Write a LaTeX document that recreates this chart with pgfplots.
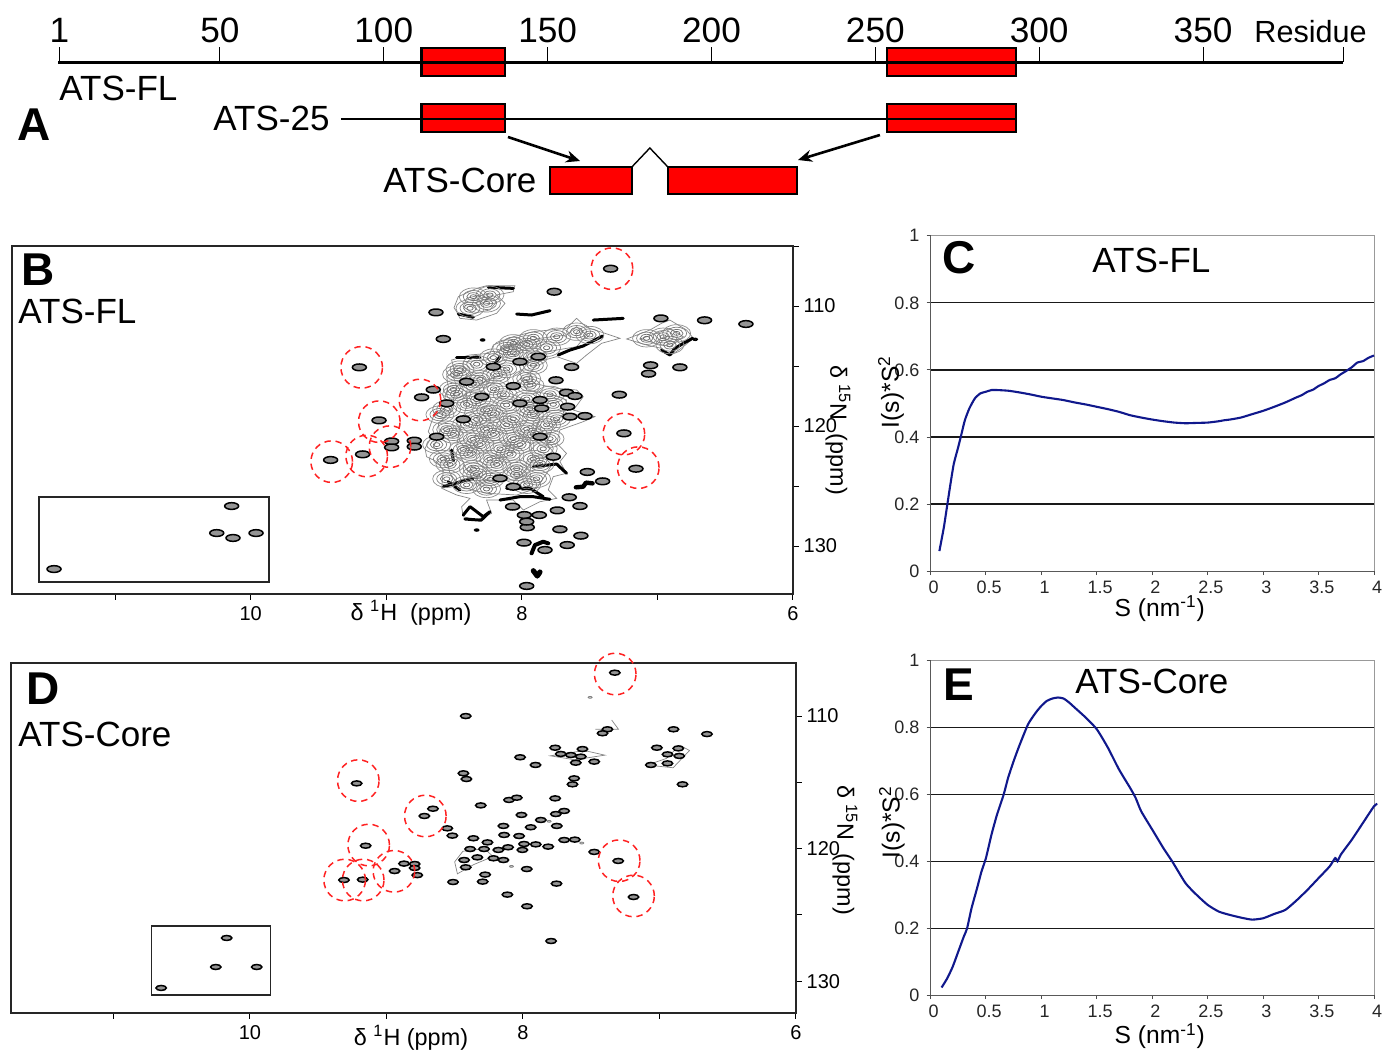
\documentclass[border=0pt]{standalone}
\usepackage{pgfplots}
\pgfplotsset{compat=1.18}
\usepackage{pgfplotstable}
\usepackage{fontspec}
\setmainfont{Liberation Sans}
\usetikzlibrary{arrows.meta}
\definecolor{curve}{HTML}{10188C}
\definecolor{cring}{HTML}{FF2222}
\newcommand\fs[1]{\fontsize{#1}{#1}\selectfont}
\pgfdeclareplotmark{ell}{\pgfpathellipse{\pgfqpoint{0pt}{0pt}}{\pgfqpoint{\pgfplotmarksize}{0pt}}{\pgfqpoint{0pt}{0.48\pgfplotmarksize}}\pgfusepathqfillstroke}
\pgfdeclareplotmark{ellr}{\pgfpathellipse{\pgfqpoint{0pt}{0pt}}{\pgfqpoint{\pgfplotmarksize}{0pt}}{\pgfqpoint{0pt}{0.62\pgfplotmarksize}}\pgfusepathqstroke}
\pgfplotstableread{
x y
7.345 106.89
9.198 115.11
8.739 117.61
8.653 116.97
9.053 119.53
9.174 122.36
9.410 122.83
8.960 121.28
8.960 121.78
8.793 121.22
8.793 121.72
7.247 120.61
7.158 123.56
7.761 108.81
8.633 110.53
6.974 111.03
6.652 111.19
6.347 111.50
8.579 112.75
7.050 114.94
6.834 115.11
7.065 115.64
7.633 115.08
7.281 117.39
7.748 116.19
7.670 117.22
7.608 117.50
7.662 118.39
7.534 119.17
7.645 119.22
7.517 123.83
7.404 124.61
7.650 125.94
7.571 126.67
7.738 127.03
7.871 127.42
7.981 127.42
8.068 126.72
7.960 128.44
7.964 127.97
7.719 128.61
7.564 129.14
7.984 129.72
7.829 130.33
7.665 129.92
7.964 133.33
8.014 114.64
7.878 114.22
8.407 116.31
8.063 116.67
7.854 118.53
8.432 119.44
8.628 120.89
7.866 120.89
8.161 124.36
8.063 125.06
7.768 122.56
8.210 115.06
8.554 118.11
8.296 117.56
8.014 118.11
7.866 117.83
10.14 126.67
10.25 128.92
9.96 128.92
10.13 129.33
11.45 131.92
}\peaksB
\pgfplotstableread{
x y
8.112 113.55
7.964 113.20
7.817 113.48
8.210 114.30
8.063 113.90
7.915 114.25
8.456 115.30
8.333 114.85
8.112 115.25
7.915 114.95
8.481 115.70
8.309 116.10
8.186 115.75
7.964 116.05
8.505 116.95
8.358 116.50
8.210 116.90
7.940 116.60
8.481 117.35
8.333 117.80
8.137 117.40
7.964 117.75
7.792 117.40
8.554 118.60
8.407 118.20
8.260 118.65
8.112 118.25
7.940 118.55
7.768 118.20
8.604 119.05
8.333 119.45
8.210 119.00
8.063 119.40
7.915 119.05
7.743 119.40
8.554 120.30
8.407 119.85
8.260 120.25
8.112 119.90
7.964 120.25
7.817 119.90
8.505 120.70
8.358 121.10
8.210 120.70
8.063 121.05
7.915 120.70
7.792 121.05
8.628 121.55
8.432 121.95
8.309 121.55
8.161 121.90
8.014 121.55
7.842 121.90
8.579 122.75
8.382 122.35
8.235 122.75
8.087 122.35
7.915 122.75
8.530 123.20
8.358 123.60
8.186 123.20
8.038 123.55
7.866 123.20
8.554 124.40
8.333 124.05
8.235 124.45
8.038 124.05
7.891 124.40
8.407 124.90
8.260 125.25
7.964 124.90
8.063 113.11
7.915 112.69
7.743 112.56
7.596 112.14
7.498 112.42
8.358 109.22
8.260 109.78
8.382 110.19
8.235 109.08
7.080 112.69
6.957 112.56
6.858 112.28
6.908 113.25
}\massB
\pgfplotstableread{
x y
7.327 106.73
8.419 110.00
7.381 111.00
7.417 111.30
6.897 111.00
6.652 111.36
7.764 112.39
7.019 112.39
6.862 112.44
7.564 112.49
7.723 112.86
7.649 112.94
7.576 113.06
6.941 112.89
6.855 113.01
8.021 113.11
7.613 113.52
7.478 113.44
7.908 113.69
7.063 113.69
6.941 113.57
8.436 114.32
8.414 114.75
7.625 114.70
7.637 115.15
6.831 115.15
9.218 115.08
7.764 116.21
8.102 116.33
8.045 116.16
8.309 116.74
8.659 116.99
8.722 117.54
7.698 117.16
7.759 117.39
8.011 117.46
7.869 117.84
7.752 118.29
7.943 118.39
8.143 118.29
8.554 118.47
8.517 119.02
8.138 118.97
8.028 119.05
8.363 119.22
8.260 119.53
7.906 119.68
7.992 119.65
7.815 119.85
7.698 119.35
7.620 119.32
8.285 120.03
8.387 120.03
8.180 120.10
8.109 119.90
8.004 120.10
8.334 120.66
8.431 120.86
8.216 120.73
8.143 120.86
7.478 120.25
7.302 120.93
9.152 119.78
7.972 121.54
8.419 121.41
8.940 121.69
8.871 121.13
8.793 121.16
8.793 121.46
8.774 122.00
8.277 121.96
9.311 122.37
9.174 122.34
8.512 122.52
8.295 122.49
7.754 122.64
7.190 123.65
8.114 123.47
7.970 124.35
7.794 126.97
10.17 126.74
10.25 128.93
9.95 128.93
10.65 130.51
}\peaksD
\pgfplotsset{nmr/.style={
  scale only axis, clip=false, x dir=reverse, y dir=reverse,
  xtick pos=lower, ytick pos=right, yticklabel pos=right,
  tick align=outside, major tick length=2.8pt, tick style={black,line width=.5pt},
  axis line style={line width=1pt,black!85},
  xtick={6,7,8,9,10,11}, xticklabels={6,,8,,10,},
  tick label style={font=\fs{10}},
  yticklabel style={xshift=-1pt},
  },
  saxs/.style={
  scale only axis, clip=false, xmin=0,xmax=4,ymin=0,ymax=1,
  axis x line=bottom, axis y line=left,
  x axis line style={-,black!65,line width=.7pt}, y axis line style={-,black!65,line width=.7pt},
  tick align=outside, major tick length=2pt, tick style={black!70,line width=.5pt},
  xtick={0,0.5,1,1.5,2,2.5,3,3.5,4}, xticklabels={0,0.5,1,1.5,2,2.5,3,3.5,4},
  ytick={0,0.2,0.4,0.6,0.8,1}, yticklabels={0,0.2,0.4,0.6,0.8,1},
  tick label style={font=\fs{9},black!85},
  xticklabel style={xshift=1.6pt,yshift=.6pt},
  ymajorgrids, grid style={black!90,line width=.65pt},
  label style={font=\fs{12.3},inner sep=0pt},
  },
  peak/.style={only marks, mark=ell, mark options={draw=black,fill=black!42,line width=.75pt}},
  gc/.style={black!48,line width=.35pt,no marks},
  dk/.style={black,line width=1.5pt,no marks,line join=round,line cap=round},
  ring/.style={only marks, mark=o, mark size=10.4pt, mark options={draw=cring,line width=.75pt,dash pattern=on 3.2pt off 2.4pt}},
}
\begin{document}
\begin{tikzpicture}
\path[use as bounding box] (0pt,0pt) rectangle (691pt,-525pt);

% ---- Panel A
\begin{axis}[at={(29pt,-31pt)},anchor=north west,scale only axis,width=642.5pt,height=66pt,clip=false,
  xmin=0.6,xmax=392.7,ymin=0,ymax=132,
  axis x line=top, axis y line=none, axis on top,
  x axis line style={-,line width=1.5pt,black},
  xtick align=outside, xticklabel pos=upper, major tick length=7.5pt, tick style={black,line width=.5pt},
  xtick={1,50,100,150,200,250,300,350,392.7}, xticklabels={1,50,100,150,200,250,300,350,{}},
  xticklabel style={font=\fs{17.6},inner sep=0pt,yshift=2pt}]
\addplot[fill=red,draw=black,line width=1.3pt] coordinates {(111.6,118)(137,118)(137,146)(111.6,146)} -- cycle;
\addplot[fill=red,draw=black,line width=1.3pt] coordinates {(253.6,118)(292.9,118)(292.9,146)(253.6,146)} -- cycle;
\addplot[fill=red,draw=black,line width=1.3pt] coordinates {(111.6,62)(137,62)(137,90)(111.6,90)} -- cycle;
\addplot[fill=red,draw=black,line width=1.3pt] coordinates {(253.6,62)(292.9,62)(292.9,90)(253.6,90)} -- cycle;
\addplot[black,line width=1pt] coordinates {(86.9,75)(292.9,75)};
\addplot[fill=red,draw=black,line width=1.3pt] coordinates {(150.7,0)(175.7,0)(175.7,27)(150.7,27)} -- cycle;
\addplot[fill=red,draw=black,line width=1.3pt] coordinates {(186.7,0)(226.1,0)(226.1,27)(186.7,27)} -- cycle;
\addplot[black,line width=.7pt] coordinates {(175.7,27)(181.2,46)(186.7,27)};
\addplot[-{Stealth[length=7pt,width=6pt]},black,line width=1.3pt] coordinates {(137.9,57)(159.9,33)};
\addplot[-{Stealth[length=7pt,width=6pt]},black,line width=1.3pt] coordinates {(251.4,59)(226.4,34)};
\end{axis}

% ---- Panel B
\begin{axis}[nmr,at={(6pt,-123pt)},anchor=north west,width=390.5pt,height=174pt,
  xmin=6,xmax=11.76,ymin=105,ymax=134,
  ytick={105,110,115,120,125,130}, yticklabels={,110,,120,,130}]
% main contour mass
\addplot[gc] coordinates {(8.714,121.86)(8.665,120.89)(8.690,120.47)(8.653,119.22)(8.554,118.39)(8.567,117.56)(8.542,116.72)(8.554,115.89)(8.493,115.47)(8.518,114.5)(8.382,114.08)(8.235,113.94)(8.210,113.25)(8.063,112.56)(7.915,112.14)(7.670,111.86)(7.596,111.03)(7.522,111.78)(7.424,112.14)(7.276,112.69)(7.412,113.11)(7.522,114.08)(7.596,114.78)(7.670,114.5)(7.743,114.22)(7.878,114.64)(7.940,115.61)(7.915,116.44)(7.743,116.86)(7.596,117.0)(7.547,117.56)(7.620,118.67)(7.461,119.22)(7.547,119.64)(7.719,120.33)(7.743,121.44)(7.670,122.28)(7.719,122.97)(7.670,123.94)(7.768,124.22)(7.805,125.33)(7.743,126.03)(7.866,126.31)(7.989,127.0)(8.063,126.17)(8.260,126.17)(8.223,127.28)(8.333,127.83)(8.432,127.56)(8.444,126.72)(8.382,126.03)(8.481,125.75)(8.591,125.19)(8.579,123.67)(8.628,122.97)(8.702,122.56)} -- cycle;
\addplot[gc] coordinates {(8.653,121.72)(8.604,120.75)(8.616,119.78)(8.530,118.94)(8.505,117.83)(8.481,116.72)(8.505,115.89)(8.432,115.47)(8.432,114.64)(8.260,114.5)(8.161,113.67)(8.038,113.11)(7.866,112.69)(7.670,112.42)(7.596,111.72)(7.522,112.42)(7.596,113.39)(7.743,113.67)(7.915,114.08)(8.014,115.61)(7.964,117.0)(7.768,117.42)(7.670,117.83)(7.694,118.94)(7.768,120.06)(7.817,121.44)(7.743,122.56)(7.817,123.94)(7.891,125.19)(8.038,125.75)(8.260,125.61)(8.456,125.06)(8.530,123.94)(8.554,122.83)} -- cycle;
\addplot[gc] coordinates {(8.481,121.72)(8.456,120.06)(8.407,118.39)(8.407,117.28)(8.260,116.17)(8.112,115.61)(8.087,117.28)(7.915,118.11)(7.866,119.5)(7.940,121.17)(7.915,122.83)(8.038,124.5)(8.260,124.5)(8.407,123.67)} -- cycle;
\addplot[gc] coordinates {(8.500,110.14)(8.468,109.22)(8.333,108.53)(8.260,108.31)(8.051,108.31)(8.063,108.81)(8.186,109.08)(8.124,109.78)(8.186,110.61)(8.333,111.17)(8.456,111.03)(8.481,110.47)} -- cycle;
\addplot[gc] coordinates {(8.432,110.06)(8.407,109.36)(8.309,109.08)(8.186,109.64)(8.235,110.33)(8.358,110.61)} -- cycle;
\addplot[gc] coordinates {(7.227,112.75)(7.055,112.0)(6.969,111.44)(6.908,111.17)(6.785,112.0)(6.735,112.69)(6.809,113.39)(6.908,114.17)(6.969,113.53)(7.080,113.25)} -- cycle;
\addplot[gc] coordinates {(7.129,112.75)(7.006,112.28)(6.908,111.86)(6.809,112.56)(6.908,113.39)(7.030,113.06)} -- cycle;
% overlapping contour rings inside the mass
\addplot[only marks,mark=ellr,mark size=7pt,mark options={draw=black!45,line width=.35pt}] table {\massB};
\addplot[only marks,mark=ellr,mark size=5pt,mark options={draw=black!50,line width=.35pt}] table {\massB};
\addplot[only marks,mark=ellr,mark size=3.2pt,mark options={draw=black!55,line width=.35pt}] table {\massB};
\addplot[only marks,mark=ellr,mark size=1.6pt,mark options={draw=black!60,line width=.35pt}] table {\massB};
% dark ridges
\addplot[dk] coordinates {(7.731,114.08)(7.645,113.67)(7.547,113.33)(7.461,112.83)(7.404,112.5)};
\addplot[dk] coordinates {(6.969,113.67)(6.908,114.08)(6.871,113.53)(6.809,113.11)(6.740,112.69)};
\addplot[dk] coordinates {(8.247,108.44)(8.063,108.53)};
\addplot[dk] coordinates {(8.038,110.67)(7.928,110.75)(7.792,110.39)};
\addplot[dk] coordinates {(8.468,110.67)(8.358,110.94)};
\addplot[dk] coordinates {(7.473,111.17)(7.252,111.03)};
\addplot[dk] coordinates {(8.542,124.67)(8.456,125.33)};
\addplot[dk] coordinates {(8.432,127.42)(8.382,126.72)(8.284,127.56)(8.235,127.14)(8.300,127.85)(8.420,127.75)};
\addplot[dk] coordinates {(8.161,126.17)(8.014,125.89)(7.915,125.89)(7.792,126.11)};
\addplot[dk] coordinates {(8.112,125.19)(7.940,125.19)(7.842,125.89)};
\addplot[dk] coordinates {(7.915,123.39)(7.743,123.17)(7.670,123.94)};
\addplot[dk] coordinates {(8.579,125.06)(8.407,124.5)(8.358,124.36)};
\addplot[dk] coordinates {(8.518,122.0)(8.505,122.89)};
\addplot[dk] coordinates {(8.481,114.28)(8.309,114.28)};
\addplot[dk] coordinates {(8.161,114.22)(8.223,115.19)};
\addplot[dk,line width=2.2pt] coordinates {(7.601,125.11)(7.547,125.06)(7.527,124.72)(7.478,124.78)};
\addplot[dk,line width=2pt] coordinates {(7.928,130.61)(7.903,129.92)(7.842,129.64)(7.805,129.78)};
\addplot[dk,line width=2.6pt] coordinates {(7.915,132.06)(7.886,132.5)(7.866,132.17)};
% resolved peaks
\addplot[peak,mark size=3.5pt] table {\peaksB};
\addplot[peak,mark size=1pt] coordinates {(8.289,112.83)(6.721,112.78)(8.333,128.67)};
% inset frame
\addplot[black!85,line width=.7pt] coordinates {(11.56,125.92)(9.864,125.92)(9.864,133)(11.56,133)} -- cycle;
% red markers
\addplot[ring] coordinates {(7.335,106.89)(9.181,115.11)(8.751,117.83)(9.051,119.64)(9.144,122.5)(9.402,122.97)(8.972,121.72)(7.247,120.67)(7.141,123.47)};
\end{axis}

% ---- Panel D
\begin{axis}[nmr,at={(5.5pt,-331.5pt)},anchor=north west,width=392.5pt,height=175pt,
  xmin=6,xmax=11.75,ymin=106,ymax=132.4,
  ytick={110,115,120,125,130}, yticklabels={110,,120,,130}]
\addplot[gc] coordinates {(7.55,112.6)(7.40,112.95)(7.62,113.3)(7.80,113.0)} -- cycle;
\addplot[gc] coordinates {(7.47,111.0)(7.30,111.0)(7.35,110.3)};
\addplot[gc] coordinates {(8.44,120.2)(8.28,120.0)(8.22,120.6)(8.36,121.2)(8.48,121.9)(8.50,121.0)} -- cycle;
\addplot[gc] coordinates {(7.09,113.7)(6.95,113.2)(6.85,112.2)(6.78,112.6)(6.90,113.9)} -- cycle;
\addplot[peak,mark size=2.6pt] table {\peaksD};
\addplot[peak,mark size=1pt,mark options={draw=black!50,fill=black!20,line width=.4pt}] coordinates {(7.508,108.59)(8.084,121.34)(7.569,119.58)(7.808,117.94)};
\addplot[black!85,line width=.7pt] coordinates {(10.72,125.84)(9.849,125.84)(9.849,131.04)(10.72,131.04)} -- cycle;
\addplot[ring] coordinates {(9.206,114.87)(8.715,117.54)(9.130,119.73)(9.306,122.37)(9.170,122.37)(8.945,121.71)(7.295,120.91)(7.190,123.57)(7.324,106.83)};
\end{axis}

% ---- Panel C
\begin{axis}[saxs,at={(465.25pt,-117.85pt)},anchor=north west,width=221.75pt,height=167.75pt,
  xlabel={S (nm\textsuperscript{-1})},ylabel={I(s)*S\textsuperscript{2}},
  xlabel style={at={(axis description cs:0.517,-0.112)},anchor=center},
  ylabel style={at={(axis description cs:-0.089,0.534)},anchor=center}]
\addplot[black!40,line width=.5pt] coordinates {(0,1)(4,1)(4,0)};
\addplot[curve,line width=1.05pt,smooth,tension=.35] coordinates {(0.08,.06)(0.12,.13)(0.15,.195)(0.18,.26)(0.21,.32)(0.25,.37)(0.28,.41)(0.31,.45)(0.35,.485)(0.4,.515)(0.45,.53)(0.5,.535)(0.55,.54)(0.6,.54)(0.7,.538)(0.8,.533)(0.9,.527)(1,.52)(1.1,.515)(1.2,.51)(1.3,.503)(1.4,.497)(1.5,.49)(1.6,.483)(1.7,.475)(1.8,.465)(1.9,.458)(2,.452)(2.1,.447)(2.2,.443)(2.3,.441)(2.4,.442)(2.5,.443)(2.6,.447)(2.65,.45)(2.7,.452)(2.8,.458)(2.9,.468)(3,.478)(3.1,.49)(3.2,.503)(3.3,.518)(3.35,.525)(3.4,.535)(3.45,.541)(3.5,.552)(3.55,.56)(3.6,.57)(3.65,.575)(3.7,.587)(3.75,.597)(3.8,.608)(3.85,.622)(3.9,.626)(3.95,.636)(4,.643)};
\end{axis}

% ---- Panel E
\begin{axis}[saxs,at={(465.25pt,-330.35pt)},anchor=north west,width=221.75pt,height=167.25pt,
  xlabel={S (nm\textsuperscript{-1})},ylabel={I(s)*S\textsuperscript{2}},
  xlabel style={at={(axis description cs:0.517,-0.122)},anchor=center},
  ylabel style={at={(axis description cs:-0.087,0.517)},anchor=center}]
\addplot[black!40,line width=.5pt] coordinates {(0,1)(4,1)(4,0)};
\addplot[curve,line width=1.05pt,smooth,tension=.35] coordinates {(0.1,.023)(0.15,.05)(0.2,.085)(0.25,.13)(0.3,.175)(0.33,.2)(0.37,.26)(0.42,.32)(0.46,.37)(0.5,.41)(0.55,.48)(0.6,.54)(0.66,.6)(0.7,.65)(0.75,.7)(0.8,.745)(0.88,.81)(0.95,.845)(1.0,.865)(1.05,.88)(1.1,.887)(1.15,.89)(1.2,.887)(1.25,.875)(1.3,.86)(1.4,.83)(1.5,.795)(1.6,.74)(1.7,.675)(1.8,.62)(1.85,.59)(1.9,.55)(2,.495)(2.1,.44)(2.18,.4)(2.3,.335)(2.4,.3)(2.5,.27)(2.6,.25)(2.7,.24)(2.8,.232)(2.9,.226)(3,.23)(3.1,.243)(3.2,.255)(3.3,.283)(3.4,.315)(3.5,.35)(3.6,.385)(3.65,.41)(3.67,.40)(3.7,.42)(3.8,.465)(3.9,.515)(4,.565)(4.03,.572)};
\end{axis}

% ---- Text
\begin{scope}[x=.5pt,y=-.5pt,every node/.style={inner sep=0pt,anchor=base west}]
\node[font=\fs{17.5}] at (59,100) {ATS-FL};
\node[font=\fs{17.5}] at (213,130) {ATS-25};
\node[font=\fs{17.5}] at (383,192) {ATS-Core};
\node[font=\fs{15.3}] at (1254,42) {Residue};
\node[font=\fs{23}\bfseries] at (17,140) {A};
\node[font=\fs{23}\bfseries] at (21,285) {B};
\node[font=\fs{17.5}] at (18,323) {ATS-FL};
\node[font=\fs{23}\bfseries] at (26,704) {D};
\node[font=\fs{17.5}] at (18,746) {ATS-Core};
\node[font=\fs{23}\bfseries] at (942,273) {C};
\node[font=\fs{17.5}] at (1092,272) {ATS-FL};
\node[font=\fs{23}\bfseries] at (943,700) {E};
\node[font=\fs{17.5}] at (1075,693) {ATS-Core};
\node[font=\fs{11.7},anchor=center] at (411,613) {δ \textsuperscript{1}H\ \ (ppm)};
\node[font=\fs{11.7},anchor=center] at (411,1038) {δ \textsuperscript{1}H (ppm)};
\node[font=\fs{11.7},anchor=center,rotate=-90] at (838,430) {δ \textsuperscript{15}N\ \ (ppm)};
\node[font=\fs{11.7},anchor=center,rotate=-90] at (845,850) {δ \textsuperscript{15}N\ \ (ppm)};
\end{scope}
\end{tikzpicture}
\end{document}
